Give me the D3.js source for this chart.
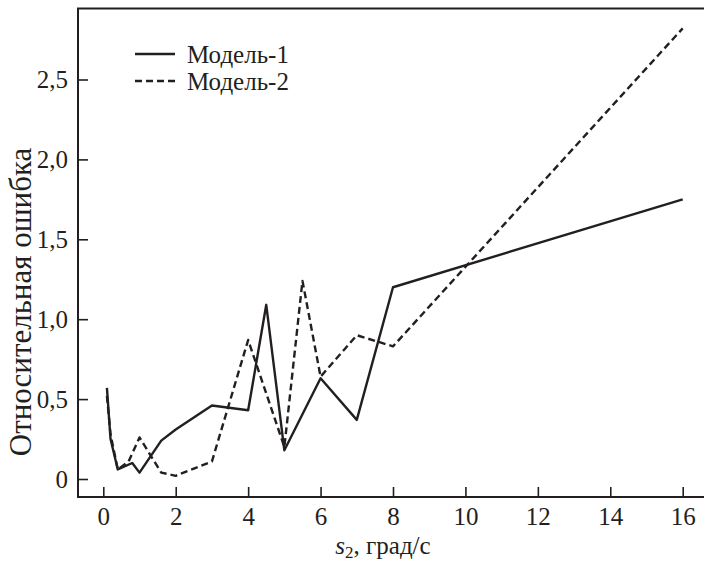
<!DOCTYPE html>
<html><head><meta charset="utf-8">
<script src="https://cdn.jsdelivr.net/npm/d3@7"></script>
</head>
<body style="margin:0;background:#fff">
<svg id="chart" width="704" height="566" font-family="Liberation Serif"></svg>
<script>
const xTicks = [0, 2, 4, 6, 8, 10, 12, 14, 16];
const yTicks = [0, 0.5, 1.0, 1.5, 2.0, 2.5];
const yTickLabels = ["0", "0,5", "1,0", "1,5", "2,0", "2,5"];
const seriesNames = ["Модель-1", "Модель-2"];
const model1X = [0.1, 0.2, 0.4, 0.8, 1.0, 1.6, 2.0, 3.0, 4.0, 4.5, 5.0, 6.0, 7.0, 8.0, 16];
const model1Y = [0.57, 0.25, 0.06, 0.10, 0.04, 0.24, 0.31, 0.46, 0.43, 1.09, 0.18, 0.63, 0.37, 1.20, 1.75];
const model2X = [0.1, 0.2, 0.4, 0.7, 1.0, 1.6, 2.0, 3.0, 4.0, 5.0, 5.5, 6.0, 7.0, 8.0, 16];
const model2Y = [0.52, 0.28, 0.06, 0.11, 0.26, 0.04, 0.02, 0.11, 0.87, 0.20, 1.24, 0.64, 0.90, 0.83, 2.82];

const ink = "#231f20";
const FONT = "Liberation Serif";
const svg = d3.select("#chart");
const frame = {left: 78, top: 8.5, right: 720, bottom: 497};
const x = d3.scaleLinear().domain([0, 16]).range([103.3, 682.7]);
const y = d3.scaleLinear().domain([0, 2.5]).range([479, 79.5]);

svg.append("path")
  .attr("d", `M${frame.right},${frame.top}H${frame.left}V${frame.bottom}H${frame.right}`)
  .attr("fill", "none").attr("stroke", ink).attr("stroke-width", 2);

const xAxis = d3.axisBottom(x).tickValues(xTicks).tickSize(-10).tickFormat(d3.format("d"));
const gx = svg.append("g").attr("transform", `translate(0,${frame.bottom})`).call(xAxis)
  .attr("font-family", FONT);
gx.select(".domain").remove();
gx.selectAll("line").attr("stroke", ink).attr("stroke-width", 1.6);
gx.selectAll("text").attr("font-family", FONT).attr("font-size", 25).attr("fill", ink)
  .attr("y", 10).attr("dy", "0.71em");

const yAxis = d3.axisLeft(y).tickValues(yTicks).tickSize(-10)
  .tickFormat((d, i) => yTickLabels[i]);
const gy = svg.append("g").attr("transform", `translate(${frame.left},0)`).call(yAxis)
  .attr("font-family", FONT);
gy.select(".domain").remove();
gy.selectAll("line").attr("stroke", ink).attr("stroke-width", 1.6);
gy.selectAll("text").attr("font-family", FONT).attr("font-size", 25).attr("fill", ink).attr("x", -10);

const line = d3.line().x(d => x(d[0])).y(d => y(d[1]));
const d1 = model1X.map((v, i) => [v, model1Y[i]]);
const d2 = model2X.map((v, i) => [v, model2Y[i]]);
svg.append("path").datum(d2).attr("d", line).attr("fill", "none")
  .attr("stroke", ink).attr("stroke-width", 2.4).attr("stroke-dasharray", "7,4")
  .attr("stroke-linejoin", "round");
svg.append("path").datum(d1).attr("d", line).attr("fill", "none")
  .attr("stroke", ink).attr("stroke-width", 2.4).attr("stroke-linejoin", "round");

const legend = svg.append("g");
[0, 1].forEach(i => {
  const ly = 54 + i * 27;
  legend.append("line").attr("x1", 135).attr("x2", 175).attr("y1", ly).attr("y2", ly)
    .attr("stroke", ink).attr("stroke-width", 2.4)
    .attr("stroke-dasharray", i === 1 ? "7,4" : null);
  legend.append("text").attr("x", 187).attr("y", ly).attr("dy", "0.35em")
    .attr("font-family", FONT).attr("fill", ink)
    .attr("font-size", 25).text(seriesNames[i]);
});

const xt = svg.append("text").attr("x", 383).attr("y", 554).attr("text-anchor", "middle")
  .attr("font-family", FONT).attr("fill", ink).attr("font-size", 25);
xt.append("tspan").attr("font-style", "italic").text("s");
xt.append("tspan").attr("font-size", 17).attr("dy", 4).text("2");
xt.append("tspan").attr("dy", -4).text(", град/с");

svg.append("text").attr("transform", "translate(31,302) rotate(-90)")
  .attr("font-family", FONT).attr("fill", ink)
  .attr("text-anchor", "middle").attr("font-size", 31).text("Относительная ошибка");
</script>
</body></html>
